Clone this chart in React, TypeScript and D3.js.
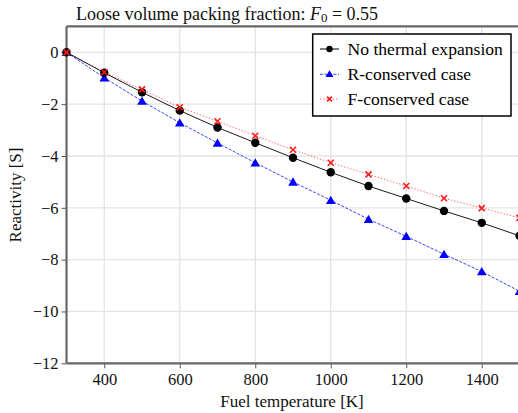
import React, { useEffect, useRef } from "react";
import * as d3 from "d3";

// fuel temperature [K]
const temps = [300, 400, 500, 600, 700, 800, 900, 1000, 1100, 1200, 1300, 1400, 1500];
// reactivity
const noExpansion = [0, -0.79, -1.54, -2.25, -2.9, -3.49, -4.07, -4.63, -5.16, -5.64, -6.12, -6.58, -7.08];
const rConserved = [0, -0.98, -1.88, -2.72, -3.5, -4.26, -5.0, -5.71, -6.44, -7.1, -7.79, -8.46, -9.22];
const fConserved = [0, -0.77, -1.43, -2.12, -2.66, -3.22, -3.76, -4.26, -4.71, -5.16, -5.63, -6.01, -6.39];

const xTicks = [400, 600, 800, 1000, 1200, 1400];
const yTicks = [0, -2, -4, -6, -8, -10, -12];

const seriesNames = ["No thermal expansion", "R-conserved case", "F-conserved case"];

const W = 518;
const H = 413;
const FONT = "Liberation Serif";

const App = () => {
  const ref = useRef<SVGSVGElement>(null);

  useEffect(() => {
    const svg = d3.select(ref.current);
    svg.selectAll("*").remove();

    const x = d3.scaleLinear().domain([300, 1500]).range([66.5, 519.5]);
    const y = d3.scaleLinear().domain([-12, 1]).range([363.3, 26.4]);
    const [x0, x1] = x.range();
    const [y0, y1] = y.range();

    // grid
    const grid = svg.append("g").attr("stroke", "#e3e3e3").attr("stroke-width", 1.3);
    grid.selectAll("line.v").data(xTicks).enter().append("line")
      .attr("x1", (d) => x(d)).attr("x2", (d) => x(d)).attr("y1", y0).attr("y2", y1);
    grid.selectAll("line.h").data(yTicks).enter().append("line")
      .attr("x1", x0).attr("x2", x1).attr("y1", (d) => y(d)).attr("y2", (d) => y(d));

    // axes
    const xAxis = svg.append("g")
      .attr("transform", `translate(0, ${y0})`)
      .call(d3.axisBottom(x).tickValues(xTicks).tickSize(5).tickPadding(5).tickFormat(d3.format("d")));
    const yAxis = svg.append("g")
      .attr("transform", `translate(${x0}, 0)`)
      .call(d3.axisLeft(y).tickValues(yTicks).tickSize(5).tickPadding(3)
        .tickFormat((d) => String(d).replace("-", "\u2212")));
    [xAxis, yAxis].forEach((a) => {
      a.attr("font-family", FONT).attr("font-size", 16.5);
      a.select(".domain").remove();
      a.selectAll("line").attr("stroke", "#555").attr("stroke-width", 1);
      a.selectAll("text").attr("fill", "#111");
    });

    // frame
    svg.append("line").attr("x1", x0).attr("x2", x0).attr("y1", y0).attr("y2", y1)
      .attr("stroke", "#666").attr("stroke-width", 2.2);
    svg.append("line").attr("x1", x0).attr("x2", x1).attr("y1", y0).attr("y2", y0)
      .attr("stroke", "#666").attr("stroke-width", 2.2);
    svg.append("line").attr("x1", x0).attr("x2", x1).attr("y1", y1).attr("y2", y1)
      .attr("stroke", "#666").attr("stroke-width", 2.2);

    const line = d3.line<number>().x((_, i) => x(temps[i])).y((d) => y(d));

    // F-conserved
    svg.append("path").datum(fConserved).attr("fill", "none").attr("stroke", "#ff5555")
      .attr("stroke-width", 1).attr("stroke-dasharray", "1.2,2").attr("d", line);
    // R-conserved
    svg.append("path").datum(rConserved).attr("fill", "none").attr("stroke", "#3344ff")
      .attr("stroke-width", 1).attr("stroke-dasharray", "3,1.5").attr("d", line);
    // no expansion
    svg.append("path").datum(noExpansion).attr("fill", "none").attr("stroke", "#000")
      .attr("stroke-width", 0.9).attr("d", line);

    const tri = d3.symbol().type(d3.symbolTriangle).size(40);
    const cross = (g: any, cx: number, cy: number, s: number) => {
      g.append("path")
        .attr("d", `M${cx - s},${cy - s}L${cx + s},${cy + s}M${cx - s},${cy + s}L${cx + s},${cy - s}`)
        .attr("stroke", "#ff1a1a").attr("stroke-width", 1.6).attr("fill", "none");
    };

    const mk = svg.append("g");
    mk.selectAll("path.t").data(rConserved).enter().append("path")
      .attr("d", tri).attr("fill", "#0000ff")
      .attr("transform", (d, i) => `translate(${x(temps[i])}, ${y(d) + 1})`);
    mk.selectAll("circle").data(noExpansion).enter().append("circle")
      .attr("cx", (_, i) => x(temps[i])).attr("cy", (d) => y(d)).attr("r", 4.2).attr("fill", "#000");
    fConserved.forEach((d, i) => cross(mk, x(temps[i]), y(d), 3));

    // legend
    const lg = svg.append("g");
    lg.append("rect").attr("x", 312.7).attr("y", 34).attr("width", 198.3).attr("height", 82)
      .attr("fill", "#fff").attr("stroke", "#000").attr("stroke-width", 1.5);
    const rows = [49, 74.3, 99];
    const styles = [
      { c: "#000", dash: null },
      { c: "#3344ff", dash: "3,1.5" },
      { c: "#ff5555", dash: "1.2,2" },
    ];
    seriesNames.forEach((name, i) => {
      const ry = rows[i];
      const l = lg.append("line").attr("x1", 320).attr("x2", 339).attr("y1", ry).attr("y2", ry)
        .attr("stroke", styles[i].c).attr("stroke-width", 1);
      if (styles[i].dash) l.attr("stroke-dasharray", styles[i].dash);
      if (i === 0) lg.append("circle").attr("cx", 329.5).attr("cy", ry).attr("r", 3.2).attr("fill", "#000");
      if (i === 1) lg.append("path").attr("d", d3.symbol().type(d3.symbolTriangle).size(28))
        .attr("fill", "#0000ff").attr("transform", `translate(329.5, ${ry + 0.5})`);
      if (i === 2) cross(lg, 329.5, ry, 2.4);
      lg.append("text").attr("x", 347.5).attr("y", ry + 5.5).attr("font-family", FONT)
        .attr("font-size", 17.6).attr("fill", "#000").text(name);
    });

    // title
    const t = svg.append("text").attr("x", 76).attr("y", 20).attr("font-family", FONT)
      .attr("font-size", 18).attr("fill", "#111");
    t.append("tspan").text("Loose volume packing fraction: ");
    t.append("tspan").attr("font-style", "italic").text("F");
    t.append("tspan").attr("font-size", 13).attr("dy", 2).text("0");
    t.append("tspan").attr("dy", -2).text(" = 0.55");

    // axis titles
    svg.append("text").attr("x", 292).attr("y", 407).attr("text-anchor", "middle")
      .attr("font-family", FONT).attr("font-size", 17).attr("fill", "#111").text("Fuel temperature [K]");
    svg.append("text").attr("transform", `translate(21, 195) rotate(-90)`).attr("text-anchor", "middle")
      .attr("font-family", FONT).attr("font-size", 17).attr("fill", "#111").text("Reactivity [S]");
  }, []);

  return (
    <svg ref={ref} width={W} height={H} fontFamily={FONT}
      style={{ position: "absolute", left: 0, top: 0, background: "#fff" }} />
  );
};

export default App;
